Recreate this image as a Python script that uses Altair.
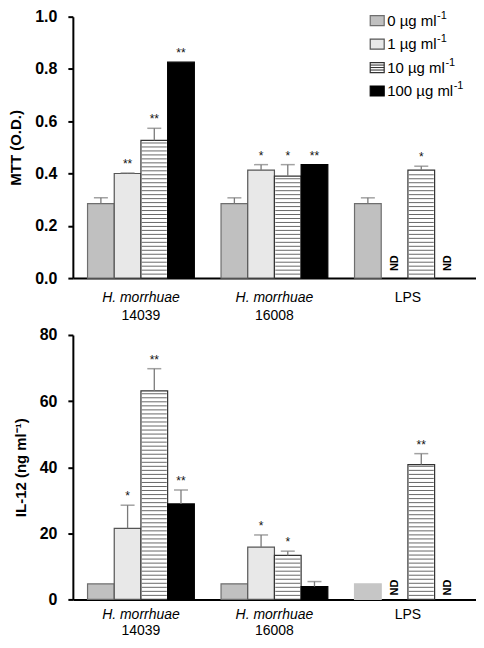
import altair as alt
import pandas as pd

# ---------------- data ----------------
groups = ["H. morrhuae 14039", "H. morrhuae 16008", "LPS"]
group_italic = ["H. morrhuae", "H. morrhuae", ""]
group_plain1 = ["", "", "LPS"]
group_plain2 = ["14039", "16008", ""]
series = ["0 µg ml", "1 µg ml", "10 µg ml", "100 µg ml"]
series_sup = "-1"

mtt_ticks = [0.0, 0.2, 0.4, 0.6, 0.8, 1.0]
mtt_mean = [[0.285, 0.400, 0.527, 0.826],
            [0.285, 0.413, 0.390, 0.434],
            [0.285, None, 0.413, None]]
mtt_upper = [[0.307, 0.402, 0.573, None],
             [0.307, 0.434, 0.434, None],
             [0.307, None, 0.428, None]]
mtt_sig = [["", "**", "**", "**"],
           ["", "*", "*", "**"],
           ["", "ND", "*", "ND"]]

il12_ticks = [0, 20, 40, 60, 80]
il12_mean = [[4.7, 21.5, 63.1, 28.9],
             [4.7, 15.8, 13.3, 3.9],
             [4.7, None, 40.8, None]]
il12_upper = [[None, 28.5, 69.8, 33.1],
              [None, 19.5, 14.6, 5.4],
              [None, None, 44.1, None]]
il12_sig = [["", "*", "**", "**"],
            ["", "*", "*", ""],
            ["", "ND", "**", "ND"]]

# ---------------- style ----------------
FILLS = ["#c0c0c0", "#e8e8e8", "#ffffff", "#000000"]
STROKES = ["#6e6e6e", "#555555", "#333333", "#000000"]
ERR = "#7a7a7a"
W = 404
H1 = 262
H2 = 265
# approximate advance widths (em) of Liberation Sans glyphs used in legend labels
CHAR_EM = {"0": 0.556, "1": 0.556, " ": 0.278, "µ": 0.576, "g": 0.556, "m": 0.833, "l": 0.222}


def build_df(mean, upper, sig, plain_last_gray=False):
    rows = []
    for gi, g in enumerate(groups):
        for si, s in enumerate(series):
            m = mean[gi][si]
            u = upper[gi][si]
            fill = FILLS[si]
            stroke = STROKES[si]
            if plain_last_gray and g == "LPS" and si == 0:
                fill = "#c6c6c6"
                stroke = "#c6c6c6"
            rows.append(dict(group=g, series=s, mean=m, upper=u, sig=sig[gi][si],
                             top=(u if u is not None else m), fill=fill, stroke=stroke))
    return pd.DataFrame(rows)


def stripe_df(df, step):
    rows = []
    for _, r in df.iterrows():
        if r["series"] == series[2] and pd.notna(r["mean"]):
            k = 1
            while k * step < r["mean"] - step * 0.3:
                rows.append(dict(group=r["group"], series=r["series"], yv=k * step))
                k += 1
    return pd.DataFrame(rows)


labels_df = pd.DataFrame(dict(group=groups, it=group_italic, p1=group_plain1, p2=group_plain2))


def panel(df, step, ymax, ticks, fmt, title, H, lab1, lab2, nd_dx, legend=False):
    x = alt.X("group:N", scale=alt.Scale(domain=groups, paddingInner=0.2, paddingOuter=0.11),
              axis=alt.Axis(title=None, labels=False, ticks=False, domainWidth=2,
                            domainColor="black"))
    xo = alt.XOffset("series:N", scale=alt.Scale(domain=series, paddingInner=0, paddingOuter=0))
    ysc = alt.Scale(domain=[0, ymax], nice=False, zero=True)
    yax = alt.Axis(title=title, values=ticks, format=fmt, grid=False, domainWidth=2,
                   domainColor="black", tickWidth=2, tickColor="black", tickSize=5,
                   labelFontSize=16, labelFontWeight="bold", labelColor="black", labelPadding=11,
                   titleFontSize=15, titleFontWeight="bold", titleColor="black", titlePadding=11)

    bars_src = df[df["mean"].notna()]
    bars = alt.Chart(bars_src).mark_bar(strokeWidth=1.2).encode(
        x=x, xOffset=xo, y=alt.Y("mean:Q", scale=ysc, axis=yax),
        fill=alt.Fill("fill:N", scale=None), stroke=alt.Stroke("stroke:N", scale=None))

    stripes = alt.Chart(stripe_df(df, step)).mark_tick(
        orient="horizontal", size=25, thickness=1, color="#2a2a2a").encode(
        x=x, xOffset=xo, y=alt.Y("yv:Q", scale=ysc, axis=yax))

    err_src = df[df["upper"].notna()]
    err = alt.Chart(err_src).mark_rule(color=ERR, strokeWidth=1.3).encode(
        x=x, xOffset=xo, y=alt.Y("mean:Q", scale=ysc, axis=yax), y2="upper:Q")
    cap = alt.Chart(err_src).mark_tick(orient="horizontal", color=ERR, size=14, thickness=1.5).encode(
        x=x, xOffset=xo, y=alt.Y("upper:Q", scale=ysc, axis=yax))

    star_src = df[df["sig"].isin(["*", "**"])]
    stars = alt.Chart(star_src).mark_text(fontSize=12, dy=-9, baseline="middle", color="#111").encode(
        x=x, xOffset=xo, y=alt.Y("top:Q", scale=ysc, axis=yax), text="sig:N")

    nd_src = df[df["sig"] == "ND"]
    nd = alt.Chart(nd_src).mark_text(angle=270, fontWeight="bold", fontSize=11, align="left",
                                     baseline="middle", dx=nd_dx, color="black").encode(
        x=x, xOffset=xo, y=alt.datum(0), text="sig:N")

    lab_it = alt.Chart(labels_df[labels_df["it"] != ""]).mark_text(
        fontStyle="italic", fontSize=14, baseline="middle", color="black").encode(
        x=x, y=alt.value(H + lab1), text="it:N")
    lab_p1 = alt.Chart(labels_df[labels_df["p1"] != ""]).mark_text(
        fontSize=14, baseline="middle", color="black").encode(
        x=x, y=alt.value(H + lab1), text="p1:N")
    lab_p2 = alt.Chart(labels_df[labels_df["p2"] != ""]).mark_text(
        fontSize=14, baseline="middle", color="black").encode(
        x=x, y=alt.value(H + lab2), text="p2:N")

    layers = [bars, stripes, err, cap, stars, nd, lab_it, lab_p1, lab_p2]

    if legend:
        fs = 15
        leg = pd.DataFrame(dict(label=series, row=[0, 1, 2, 3], fill=FILLS, stroke=STROKES))
        lx0, ly0, dy = 298, 4, 23.5
        leg["x1"] = lx0
        leg["x2"] = lx0 + 14
        leg["yc"] = ly0 + leg["row"] * dy
        leg["y1"] = leg["yc"] - 5
        leg["y2"] = leg["yc"] + 5
        leg["tx"] = lx0 + 17
        leg["sx"] = leg["tx"] + leg["label"].map(lambda t: sum(CHAR_EM.get(c, 0.55) for c in t) * fs) + 0.5
        leg["sup"] = series_sup
        boxes = alt.Chart(leg).mark_rect(strokeWidth=1.2).encode(
            x=alt.X("x1:Q", scale=None), x2="x2:Q",
            y=alt.Y("y1:Q", scale=None), y2="y2:Q",
            fill=alt.Fill("fill:N", scale=None), stroke=alt.Stroke("stroke:N", scale=None))
        hl = leg[leg["row"] == 2]
        hrows = []
        for off in (-2.5, 0, 2.5):
            hrows.append(dict(x1=float(hl["x1"].iloc[0]), x2=float(hl["x2"].iloc[0]),
                              y=float(hl["yc"].iloc[0]) + off))
        hatch = alt.Chart(pd.DataFrame(hrows)).mark_rule(color="#2a2a2a", strokeWidth=1).encode(
            x=alt.X("x1:Q", scale=None), x2="x2:Q", y=alt.Y("y:Q", scale=None))
        texts = alt.Chart(leg).mark_text(align="left", baseline="middle", fontSize=fs,
                                         color="black").encode(
            x=alt.X("tx:Q", scale=None), y=alt.Y("yc:Q", scale=None), text="label:N")
        sups = alt.Chart(leg).mark_text(align="left", baseline="middle", fontSize=11, dy=-5,
                                        color="black").encode(
            x=alt.X("sx:Q", scale=None), y=alt.Y("yc:Q", scale=None), text="sup:N")
        layers += [boxes, hatch, texts, sups]

    return alt.layer(*layers).properties(width=W, height=H)


mtt_df = build_df(mtt_mean, mtt_upper, mtt_sig)
il_df = build_df(il12_mean, il12_upper, il12_sig, plain_last_gray=True)

top = panel(mtt_df, 0.0152, 1.0, mtt_ticks, ".1f", "MTT (O.D.)", H1, 20, 38, 7, legend=True)
bottom = panel(il_df, 1.22, 80, il12_ticks, "d", "IL-12 (ng ml⁻¹)", H2, 16, 32, 4)

chart = alt.vconcat(top, bottom, spacing=4).properties(padding=0).configure(
    font="Liberation Sans").configure_view(stroke=None)

chart.save("out.html", embed_options={"renderer": "svg", "actions": False})
